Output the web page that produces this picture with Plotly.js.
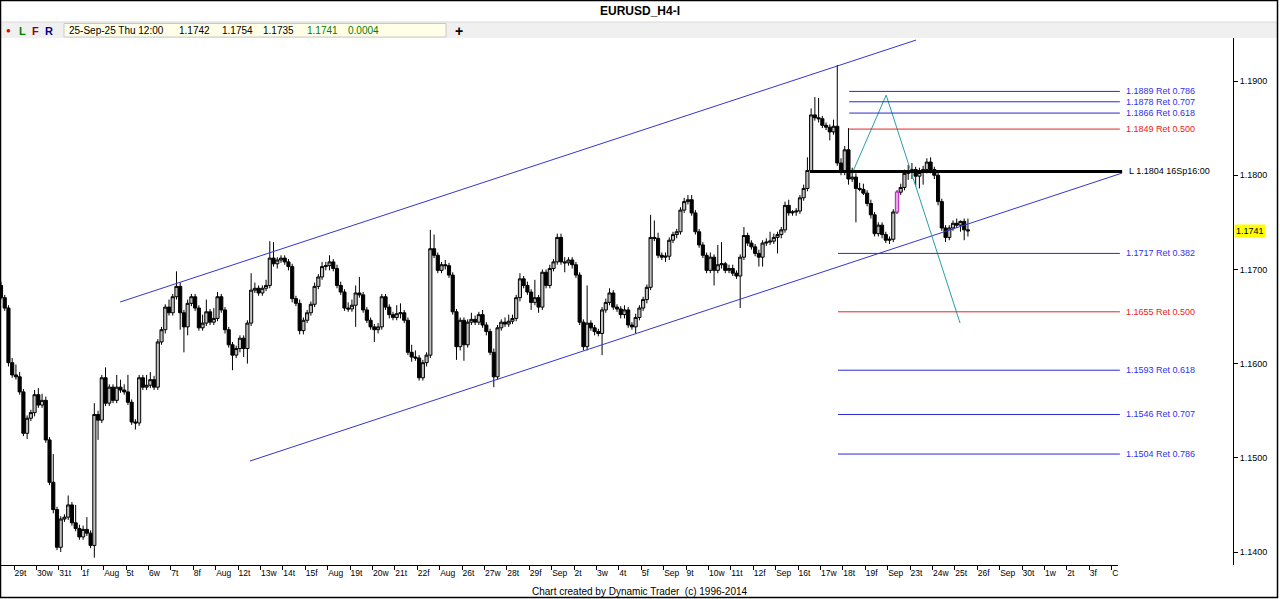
<!DOCTYPE html>
<html><head><meta charset="utf-8">
<script src="https://cdn.plot.ly/plotly-3.0.1.min.js"></script>
<style>html,body{margin:0;padding:0;background:#fff;}#chart{width:1280px;height:599px;}</style>
</head><body><div id="chart"></div>
<script>
// ---- data (H4 bars, 6 per day; bar index 0 = 28 Jul 00:00) ----
const firstBar = 2;
const barsPerDay = 6;
const open = [
1.1683,1.1670,1.1659,1.1601,
1.1588,1.1586,1.1570,1.1526,1.1542,1.1548,
1.1567,1.1556,1.1561,1.1519,1.1474,1.1445,
1.1405,1.1435,1.1437,1.1450,1.1431,1.1425,
1.1416,1.1424,1.1420,1.1407,1.1546,1.1540,
1.1585,1.1558,1.1575,1.1561,1.1575,1.1572,
1.1570,1.1559,1.1538,1.1537,1.1585,1.1575,
1.1577,1.1583,1.1575,1.1623,1.1636,1.1660,
1.1654,1.1671,1.1682,1.1654,1.1639,1.1664,
1.1671,1.1659,1.1638,1.1643,1.1655,1.1644,
1.1648,1.1671,1.1657,1.1636,1.1620,1.1609,
1.1616,1.1627,1.1616,1.1643,1.1678,1.1680,
1.1675,1.1680,1.1683,1.1712,1.1706,1.1710,
1.1712,1.1708,1.1703,1.1669,1.1664,1.1635,
1.1646,1.1654,1.1663,1.1682,1.1692,1.1703,
1.1704,1.1708,1.1701,1.1683,1.1676,1.1659,
1.1658,1.1662,1.1675,1.1673,1.1657,1.1646,
1.1639,1.1636,1.1639,1.1671,1.1660,1.1652,
1.1649,1.1653,1.1654,1.1646,1.1612,1.1607,
1.1606,1.1585,1.1601,1.1609,1.1722,1.1715,
1.1699,1.1705,1.1704,1.1694,1.1655,1.1618,
1.1646,1.1620,1.1644,1.1647,1.1644,1.1652,
1.1641,1.1634,1.1612,1.1586,1.1638,1.1644,
1.1642,1.1645,1.1648,1.1670,1.1690,1.1683,
1.1676,1.1665,1.1670,1.1660,1.1697,1.1683,
1.1701,1.1708,1.1734,1.1708,1.1707,1.1710,
1.1705,1.1694,1.1644,1.1618,1.1643,1.1638,
1.1634,1.1632,1.1657,1.1665,1.1675,1.1660,
1.1658,1.1652,1.1657,1.1641,1.1639,1.1649,
1.1659,1.1668,1.1681,1.1734,1.1733,1.1715,
1.1713,1.1714,1.1731,1.1737,1.1740,1.1763,
1.1772,1.1774,1.1760,1.1740,1.1726,1.1715,
1.1699,1.1713,1.1699,1.1705,1.1706,1.1699,
1.1701,1.1696,1.1693,1.1713,1.1736,1.1728,
1.1724,1.1717,1.1713,1.1728,1.1729,1.1730,
1.1734,1.1737,1.1742,1.1768,1.1760,1.1761,
1.1762,1.1776,1.1786,1.1805,1.1864,1.1861,
1.1860,1.1853,1.1851,1.1846,1.1852,1.1813,
1.1803,1.1827,1.1796,1.1798,1.1786,1.1785,
1.1781,1.1770,1.1758,1.1738,1.1747,1.1737,
1.1731,1.1732,1.1761,1.1782,1.1787,1.1802,
1.1803,1.1806,1.1799,1.1803,1.1806,1.1814,
1.1806,1.1800,1.1772,1.1744,1.1734,1.1744,
1.1749,1.1747,1.1751,1.1742];
const high = [
1.1687,1.1673,1.1662,1.1606,
1.1599,1.1591,1.1573,1.1545,1.1551,1.1572,
1.1574,1.1568,1.1565,1.1522,1.1504,1.1448,
1.1438,1.1440,1.1460,1.1453,1.1450,1.1429,
1.1428,1.1437,1.1423,1.1558,1.1550,1.1588,
1.1596,1.1578,1.1578,1.1588,1.1583,1.1578,
1.1588,1.1562,1.1541,1.1588,1.1588,1.1588,
1.1591,1.1587,1.1626,1.1639,1.1663,1.1668,
1.1674,1.1698,1.1686,1.1657,1.1668,1.1674,
1.1674,1.1662,1.1652,1.1668,1.1658,1.1659,
1.1676,1.1674,1.1660,1.1639,1.1623,1.1619,
1.1630,1.1630,1.1646,1.1696,1.1686,1.1683,
1.1683,1.1689,1.1730,1.1729,1.1713,1.1715,
1.1715,1.1711,1.1706,1.1672,1.1668,1.1649,
1.1657,1.1666,1.1686,1.1695,1.1708,1.1708,
1.1715,1.1711,1.1705,1.1687,1.1679,1.1665,
1.1668,1.1683,1.1692,1.1676,1.1660,1.1649,
1.1642,1.1643,1.1674,1.1674,1.1663,1.1655,
1.1662,1.1664,1.1657,1.1649,1.1620,1.1614,
1.1609,1.1604,1.1612,1.1742,1.1737,1.1718,
1.1708,1.1710,1.1707,1.1697,1.1658,1.1649,
1.1649,1.1647,1.1654,1.1651,1.1655,1.1657,
1.1644,1.1637,1.1616,1.1641,1.1647,1.1649,
1.1652,1.1652,1.1673,1.1696,1.1693,1.1687,
1.1679,1.1689,1.1673,1.1700,1.1700,1.1705,
1.1711,1.1738,1.1738,1.1713,1.1713,1.1713,
1.1708,1.1697,1.1647,1.1683,1.1646,1.1641,
1.1637,1.1660,1.1669,1.1680,1.1678,1.1663,
1.1661,1.1662,1.1660,1.1644,1.1653,1.1662,
1.1671,1.1684,1.1758,1.1752,1.1739,1.1718,
1.1718,1.1734,1.1740,1.1743,1.1766,1.1776,
1.1779,1.1779,1.1763,1.1743,1.1729,1.1718,
1.1718,1.1716,1.1726,1.1729,1.1708,1.1705,
1.1705,1.1699,1.1716,1.1745,1.1739,1.1731,
1.1727,1.1721,1.1731,1.1733,1.1740,1.1738,
1.1740,1.1745,1.1772,1.1774,1.1763,1.1765,
1.1779,1.1790,1.1819,1.1871,1.1883,1.1882,
1.1863,1.1856,1.1854,1.1859,1.1917,1.1818,
1.1831,1.1850,1.1808,1.1802,1.1792,1.1791,
1.1784,1.1774,1.1761,1.1750,1.1750,1.1740,
1.1735,1.1764,1.1784,1.1791,1.1806,1.1811,
1.1813,1.1809,1.1808,1.1810,1.1818,1.1819,
1.1809,1.1803,1.1775,1.1747,1.1747,1.1752,
1.1754,1.1752,1.1754,1.1754];
const low = [
1.1668,1.1656,1.1597,1.1585,
1.1583,1.1567,1.1523,1.1520,1.1539,1.1544,
1.1553,1.1553,1.1516,1.1471,1.1441,1.1402,
1.1400,1.1432,1.1434,1.1428,1.1422,1.1413,
1.1413,1.1417,1.1404,1.1394,1.1519,1.1537,
1.1555,1.1555,1.1558,1.1558,1.1569,1.1567,
1.1556,1.1535,1.1530,1.1534,1.1572,1.1572,
1.1574,1.1572,1.1572,1.1620,1.1632,1.1651,
1.1651,1.1668,1.1636,1.1612,1.1630,1.1661,
1.1656,1.1635,1.1635,1.1640,1.1641,1.1641,
1.1645,1.1654,1.1632,1.1617,1.1593,1.1606,
1.1612,1.1607,1.1600,1.1640,1.1675,1.1672,
1.1672,1.1677,1.1680,1.1703,1.1701,1.1707,
1.1705,1.1699,1.1665,1.1661,1.1631,1.1631,
1.1643,1.1651,1.1660,1.1679,1.1689,1.1699,
1.1699,1.1698,1.1680,1.1673,1.1656,1.1655,
1.1655,1.1639,1.1670,1.1654,1.1643,1.1636,
1.1623,1.1632,1.1636,1.1657,1.1648,1.1646,
1.1646,1.1648,1.1643,1.1609,1.1602,1.1603,
1.1582,1.1582,1.1597,1.1606,1.1712,1.1696,
1.1696,1.1700,1.1691,1.1652,1.1604,1.1614,
1.1603,1.1617,1.1641,1.1641,1.1641,1.1638,
1.1630,1.1609,1.1575,1.1583,1.1635,1.1639,
1.1639,1.1642,1.1645,1.1666,1.1680,1.1673,
1.1657,1.1662,1.1654,1.1657,1.1680,1.1680,
1.1698,1.1705,1.1705,1.1697,1.1704,1.1701,
1.1691,1.1641,1.1614,1.1614,1.1635,1.1630,
1.1629,1.1609,1.1654,1.1662,1.1657,1.1655,
1.1648,1.1648,1.1638,1.1636,1.1632,1.1646,
1.1656,1.1664,1.1678,1.1730,1.1712,1.1710,
1.1708,1.1710,1.1728,1.1733,1.1737,1.1760,
1.1769,1.1757,1.1737,1.1723,1.1712,1.1696,
1.1696,1.1683,1.1696,1.1701,1.1696,1.1696,
1.1693,1.1690,1.1659,1.1710,1.1725,1.1721,
1.1714,1.1703,1.1703,1.1725,1.1726,1.1727,
1.1717,1.1733,1.1739,1.1757,1.1757,1.1757,
1.1759,1.1773,1.1783,1.1804,1.1858,1.1856,
1.1850,1.1848,1.1837,1.1843,1.1810,1.1800,
1.1800,1.1790,1.1793,1.1750,1.1783,1.1779,
1.1767,1.1754,1.1735,1.1735,1.1733,1.1728,
1.1727,1.1729,1.1759,1.1779,1.1784,1.1795,
1.1796,1.1788,1.1786,1.1790,1.1802,1.1802,
1.1796,1.1768,1.1741,1.1729,1.1731,1.1741,
1.1744,1.1740,1.1731,1.1735];
const close = [
1.1670,1.1659,1.1601,1.1588,
1.1586,1.1570,1.1526,1.1542,1.1548,1.1567,
1.1556,1.1561,1.1519,1.1474,1.1445,1.1405,
1.1435,1.1437,1.1450,1.1431,1.1425,1.1416,
1.1424,1.1420,1.1407,1.1546,1.1540,1.1585,
1.1558,1.1575,1.1561,1.1575,1.1572,1.1570,
1.1559,1.1538,1.1537,1.1585,1.1575,1.1577,
1.1583,1.1575,1.1623,1.1636,1.1660,1.1654,
1.1671,1.1682,1.1654,1.1639,1.1664,1.1671,
1.1659,1.1638,1.1643,1.1655,1.1644,1.1648,
1.1671,1.1657,1.1636,1.1620,1.1609,1.1616,
1.1627,1.1616,1.1643,1.1678,1.1680,1.1675,
1.1680,1.1683,1.1712,1.1706,1.1710,1.1712,
1.1708,1.1703,1.1669,1.1664,1.1635,1.1646,
1.1654,1.1663,1.1682,1.1692,1.1703,1.1704,
1.1708,1.1701,1.1683,1.1676,1.1659,1.1658,
1.1662,1.1675,1.1673,1.1657,1.1646,1.1639,
1.1636,1.1639,1.1671,1.1660,1.1652,1.1649,
1.1653,1.1654,1.1646,1.1612,1.1607,1.1606,
1.1585,1.1601,1.1609,1.1722,1.1715,1.1699,
1.1705,1.1704,1.1694,1.1655,1.1618,1.1646,
1.1620,1.1644,1.1647,1.1644,1.1652,1.1641,
1.1634,1.1612,1.1586,1.1638,1.1644,1.1642,
1.1645,1.1648,1.1670,1.1690,1.1683,1.1676,
1.1665,1.1670,1.1660,1.1697,1.1683,1.1701,
1.1708,1.1734,1.1708,1.1707,1.1710,1.1705,
1.1694,1.1644,1.1618,1.1643,1.1638,1.1634,
1.1632,1.1657,1.1665,1.1675,1.1660,1.1658,
1.1652,1.1657,1.1641,1.1639,1.1649,1.1659,
1.1668,1.1681,1.1734,1.1733,1.1715,1.1713,
1.1714,1.1731,1.1737,1.1740,1.1763,1.1772,
1.1774,1.1760,1.1740,1.1726,1.1715,1.1699,
1.1713,1.1699,1.1705,1.1706,1.1699,1.1701,
1.1696,1.1693,1.1713,1.1736,1.1728,1.1724,
1.1717,1.1713,1.1728,1.1729,1.1730,1.1734,
1.1737,1.1742,1.1768,1.1760,1.1761,1.1762,
1.1776,1.1786,1.1805,1.1864,1.1861,1.1860,
1.1853,1.1851,1.1846,1.1852,1.1813,1.1803,
1.1827,1.1796,1.1798,1.1786,1.1785,1.1781,
1.1770,1.1758,1.1738,1.1747,1.1737,1.1731,
1.1732,1.1761,1.1782,1.1787,1.1802,1.1803,
1.1806,1.1799,1.1803,1.1806,1.1814,1.1806,
1.1800,1.1772,1.1744,1.1734,1.1744,1.1749,
1.1747,1.1751,1.1742,1.1741];

// day tick labels (day 1 = 29 Jul ... day 50)
const dayLabels = ['29t','30w','31t','1f','Aug','5t','6w','7t','8f','Aug','12t','13w','14t','15f','Aug','19t','20w','21t','22f','Aug','26t','27w','28t','29f','Sep','2t','3w','4t','5f','Sep','9t','10w','11t','12f','Sep','16t','17w','18t','19f','Sep','23t','24w','25t','26f','Sep','30t','1w','2t','3f','C'];
const priceTicks = [1.14,1.15,1.16,1.17,1.18,1.19];

// drawing tool values
const fibLevels = [1.1889,1.1878,1.1866,1.1849,1.1717,1.1655,1.1593,1.1546,1.1504];
const fibRatios = ['0.786','0.707','0.618','0.500','0.382','0.500','0.618','0.707','0.786'];
const fibStart  = [229.2,229.2,229.2,229.2,226.2,226.2,226.2,226.2,226.2];
const fibIsRed  = [false,false,false,true,false,true,false,false,false];
const fibEnd = 301.7;
const pivotLow = 1.1804, pivotStart = 218.7, pivotEnd = 302.3;
const upperChannelX = [33.9,247.1], upperChannelY = [1.16654,1.19435];
const lowerChannelX = [68.7,302.3], lowerChannelY = [1.14966,1.18023];
const abcX = [230.2,239.1,258.9], abcY = [1.1804,1.18851,1.1643];
const highlightBar = 242;
const lastBar = {date:'25-Sep-25 Thu 12:00', o:'1.1742', h:'1.1754', l:'1.1735', c:'1.1741', chg:'0.0004'};
const lastPrice = 1.1741;

// ---- geometry ----
const W=1280,H=599,ML=1,MR=47,MT=38,MB=34;
const PW=W-ML-MR, PH=H-MT-MB;
const px = X => (X-ML)/PW;
const py = Y => 1-(Y-MT)/PH;
const FONT = 'Liberation Sans, Arial, sans-serif';
const BOXGAP = 0.16;                 // body = (1-gap) of bar spacing
const halfBody = 0.5*(1-BOXGAP);

const xs = open.map((_,k)=>firstBar+k);
const hk = xs.indexOf(highlightBar);

const traces = [
  {type:'candlestick', x:xs, open:open, high:high, low:low, close:close,
   increasing:{line:{color:'#000',width:1}, fillcolor:'#c0c0c0'},
   decreasing:{line:{color:'#000',width:1}, fillcolor:'#000'},
   whiskerwidth:0, hoverinfo:'skip', showlegend:false},
  {type:'scatter', mode:'lines', x:upperChannelX, y:upperChannelY, line:{color:'#3434d4',width:1}, hoverinfo:'skip', showlegend:false},
  {type:'scatter', mode:'lines', x:lowerChannelX, y:lowerChannelY, line:{color:'#3434d4',width:1}, hoverinfo:'skip', showlegend:false},
  {type:'scatter', mode:'lines', x:abcX, y:abcY, line:{color:'#26a0a6',width:1}, hoverinfo:'skip', showlegend:false}
];

const shapes = [];
const annotations = [];
// frame and header band
shapes.push({type:'rect', xref:'paper', yref:'paper', x0:px(1), x1:px(1277), y0:py(22), y1:py(38), fillcolor:'#f0f0f0', line:{width:0}, layer:'below'});
shapes.push({type:'line', xref:'paper', yref:'paper', x0:px(0), x1:px(1277), y0:py(22), y1:py(22), line:{color:'#d8d8d8',width:1}});
shapes.push({type:'rect', xref:'paper', yref:'paper', x0:px(64), x1:px(446), y0:py(23.5), y1:py(37), fillcolor:'#ffffe8', line:{color:'#c8c8c8',width:1}});
shapes.push({type:'rect', xref:'paper', yref:'paper', x0:px(0.5), x1:px(1277.5), y0:py(0.5), y1:py(597.5), line:{color:'#000',width:1.5}, fillcolor:'rgba(0,0,0,0)'});
shapes.push({type:'line', xref:'paper', yref:'paper', x0:px(0), x1:px(1118), y0:py(565.5), y1:py(565.5), line:{color:'#000',width:1}});
// highlighted (current swing) candle, taken from the data arrays
if (hk >= 0) {
  shapes.push({type:'line', xref:'x', yref:'y', x0:highlightBar, x1:highlightBar, y0:low[hk], y1:high[hk], line:{color:'#cc33cc',width:1}});
  shapes.push({type:'rect', xref:'x', yref:'y', x0:highlightBar-halfBody, x1:highlightBar+halfBody, y0:open[hk], y1:close[hk],
    fillcolor:'#e4a6e4', line:{color:'#cc33cc',width:1}});
}
// fib levels
fibLevels.forEach((lv,k)=>{
  const col = fibIsRed[k] ? '#e82424' : '#2a2ad2';
  shapes.push({type:'line', xref:'x', yref:'y', x0:fibStart[k], x1:fibEnd, y0:lv, y1:lv, line:{color:col,width:1}});
  annotations.push({xref:'x', yref:'y', x:fibEnd+1.0, y:lv, xanchor:'left', yanchor:'middle', showarrow:false,
    text: lv.toFixed(4)+' Ret '+fibRatios[k], font:{family:FONT,size:9,color: fibIsRed[k]?'#ee2020':'#3030f0'}});
});
// pivot low line
shapes.push({type:'line', xref:'x', yref:'y', x0:pivotStart, x1:pivotEnd, y0:pivotLow, y1:pivotLow, line:{color:'#000',width:3}});
annotations.push({xref:'x', yref:'y', x:pivotEnd+1.2, y:pivotLow, xanchor:'left', yanchor:'middle', showarrow:false,
  text:'L '+pivotLow.toFixed(4)+' 16Sp16:00', font:{family:FONT,size:9,color:'#000'}});
// last price marker
annotations.push({xref:'paper', yref:'y', x:1, y:lastPrice, xanchor:'left', yanchor:'middle', xshift:1, showarrow:false,
  text:lastPrice.toFixed(4), bgcolor:'#ffff00', borderpad:1, font:{family:FONT,size:9,color:'#000'}});
// header
const hdr = (X, text, color, size, bold, anchor) => annotations.push({xref:'paper', yref:'paper', x:px(X), y:py(30.5), xanchor:anchor||'left', yanchor:'middle', showarrow:false,
  text: bold?'<b>'+text+'</b>':text, font:{family:FONT,size:size,color:color}});
hdr(8,'●','#e00000',8,false,'center');
hdr(22,'L','#008000',11,true,'center');
hdr(35,'F','#990000',11,true,'center');
hdr(49,'R','#000099',11,true,'center');
hdr(67,lastBar.date,'#000',10,false);
hdr(177,lastBar.o,'#000',10,false);
hdr(220,lastBar.h,'#000',10,false);
hdr(261,lastBar.l,'#000',10,false);
hdr(305,lastBar.c,'#008000',10,false);
hdr(346,lastBar.chg,'#008000',10,false);
hdr(459,'+','#000',14,true,'center');
// footer
annotations.push({xref:'paper', yref:'paper', x:px(640), y:py(591), xanchor:'center', yanchor:'middle', showarrow:false,
  text:'Chart created by Dynamic Trader  (c) 1996-2014', font:{family:FONT,size:10,color:'#000'}});

const layout = {
  width:W, height:H, margin:{l:ML,r:MR,t:MT,b:MB,pad:0, autoexpand:false},
  paper_bgcolor:'#fff', plot_bgcolor:'#fff', showlegend:false,
  boxmode:'overlay', boxgap:BOXGAP, boxgroupgap:0,
  title:{text:'<b>EURUSD_H4-I</b>', xref:'container', yref:'container', x:0.5, y:1-11/H, xanchor:'center', yanchor:'middle',
    font:{family:FONT,size:12,color:'#000'}},
  xaxis:{range:[2,332], tickmode:'array', tickvals:dayLabels.map((_,k)=>(k+1)*barsPerDay-0.5), ticktext:dayLabels,
    ticks:'outside', ticklen:4, tickcolor:'#000', tickwidth:1, ticklabelposition:'outside right', tickangle:0,
    tickfont:{family:FONT,size:8.5,color:'#000'}, showgrid:false, zeroline:false, showline:false,
    rangeslider:{visible:false}, fixedrange:true},
  yaxis:{side:'right', range:[1.13862,1.19457], tickmode:'array', tickvals:priceTicks, ticktext:priceTicks.map(v=>v.toFixed(4)),
    ticks:'outside', ticklen:4, tickcolor:'#000', showline:true, linecolor:'#000', linewidth:1,
    tickfont:{family:FONT,size:9,color:'#000'}, showgrid:false, zeroline:false, fixedrange:true},
  shapes:shapes, annotations:annotations
};
Plotly.newPlot('chart', traces, layout, {staticPlot:true, displayModeBar:false});
</script></body></html>
